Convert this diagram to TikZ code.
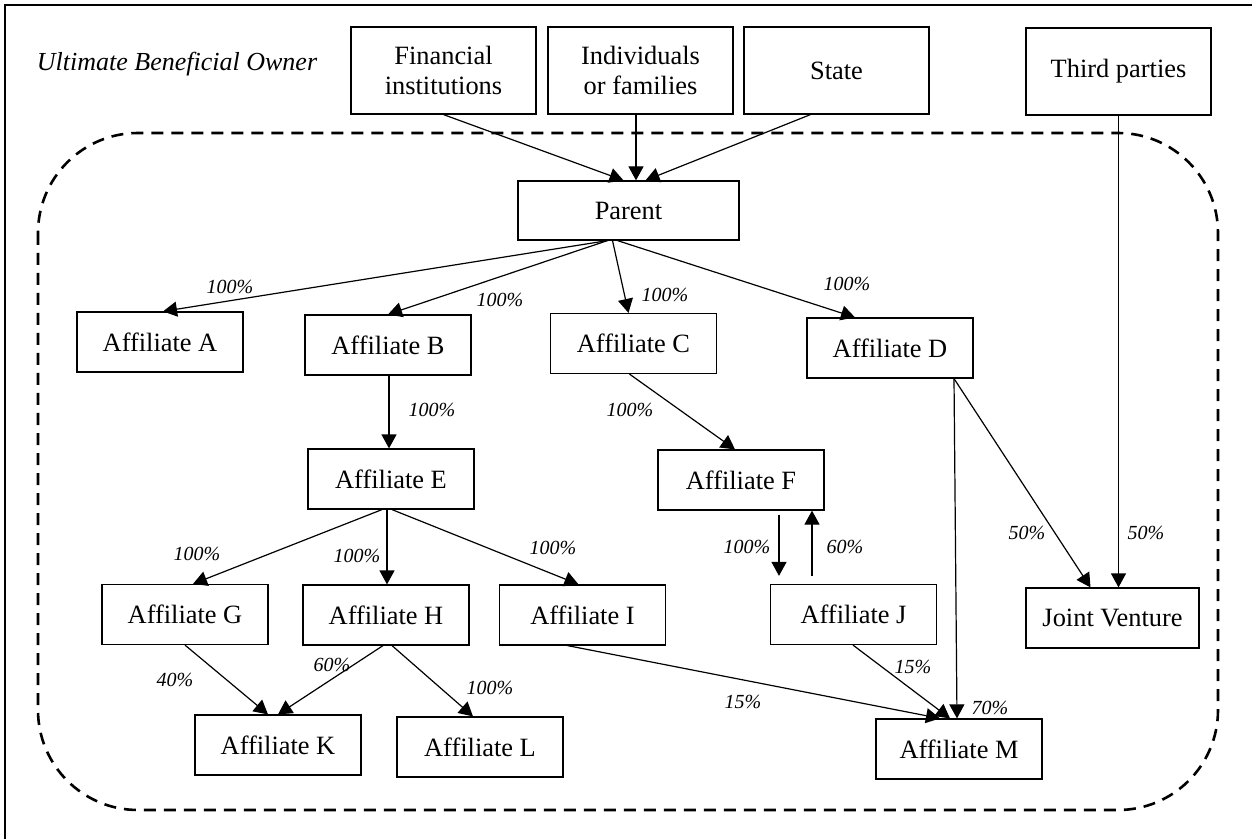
\documentclass[tikz,border=0pt]{standalone}
\usepackage{fontspec}
\setmainfont{Liberation Serif}
\usetikzlibrary{arrows.meta,positioning,calc}

\begin{document}
\begin{tikzpicture}[x=0.5pt, y=-0.5pt,
    every node/.style={font=\fontsize{13.2}{15}\selectfont},
    box/.style={draw, line width=0.6pt, minimum width=83pt, minimum height=30pt, inner sep=0pt, align=center},
    owner/.style={box, minimum width=92.5pt, minimum height=43.5pt},
    pct/.style={font=\fontsize{10}{12}\selectfont\itshape},
    arr/.style={line width=0.6pt, -{Triangle[length=7pt,width=7.5pt]}}]
  \useasboundingbox (0,0) rectangle (1252,839);
  \draw[line width=1pt] (5,839) -- (5,5) -- (1252,5);
  % group boundary
  \draw[dashed, line width=1.3pt, dash pattern=on 6pt off 4pt, rounded corners=50pt] (38,133) rectangle (1218,810);

  % owners
  \node[font=\fontsize{13}{15}\selectfont\itshape] (ubo) at (177,64) {Ultimate Beneficial Owner};
  \node[owner] (fin)   at (443.5,70.5)  {Financial\\institutions};
  \node[owner] (ind)   at (640.5,70.5)  {Individuals\\or families};
  \node[owner] (state) at (836.5,70.5)  {State};
  \node[owner] (third) at (1118.5,71.5) {Third parties};

  % companies
  \node[box, minimum width=110.5pt, minimum height=29.5pt] (parent) at (628.5,210.5) {Parent};
  \foreach \n/\x/\y/\l in {affA/160/342/A, affB/388/345/B, affC/633.5/343.5/C, affD/890/348/D,
      affE/391/479/E, affF/741/480/F, affG/185/614.5/G, affH/386/615/H, affI/582.5/615/I,
      affJ/853.5/614.5/J, affK/278/745/K, affL/480/747/L, affM/959/749/M}{
    \node[box] (\n) at (\x,\y) {Affiliate \l};
  }
  \node[box, minimum width=86.5pt] (jv) at (1112.5,618) {Joint Venture};

  % ownership links
  \draw[arr] (fin.south) -- ($(parent.north)+(-5,0)$);
  \draw[arr] ($(ind.south)+(-4.5,0)$) -- ($(parent.north)+(7.5,0)$);
  \draw[arr] ($(state.south)+(-26,0)$) -- ($(parent.north)+(17,0)$);
  \foreach \a/\sa/\b/\sb in {parent/-21/affA/3, parent/-21/affB/0, parent/-16/affC/-5, parent/-11/affD/-35,
      affB/1/affE/-2, affC/-4/affF/-6, affD/64/jv/-22, affD/64/affM/-2, third/0/jv/6,
      affE/-9/affG/8, affE/-4/affH/1, affE/1/affI/-4, affG/0/affK/-10, affH/-3/affK/0,
      affH/6/affL/-7, affI/-15/affM/-19, affJ/-0.5/affM/-9}{
    \draw[arr] ($(\a.south)+(\sa,0)$) -- ($(\b.north)+(\sb,0)$);
  }
  \draw[arr, shorten <=2pt, shorten >=4pt] ($(affF.south)+(38,0)$) -- ($(affJ.north)+(-74.5,0)$);
  \draw[arr, shorten <=4pt] ($(affJ.north)+(-41.5,0)$) -- ($(affF.south)+(71,0)$);

  % shares
  \foreach \n/\x/\y/\t in {pA/230/287/100, pB/500/300/100, pC/665/295/100, pD/847/284/100,
      pE/432/410/100, pF/630/410/100, pJVd/1027/533/50, pJVt/1146/533/50,
      pG/197/554/100, pH/357/556/100, pI/553/548/100, pJ/747/547/100, pFJ/845/547/60,
      pKg/175/680/40, pKh/332/665/60, pL/490/688/100, pMi/743/702/15, pMj/913/667/15, pMd/990/708/70}{
    \node[pct] (\n) at (\x,\y) {\t\%};
  }
\end{tikzpicture}
\end{document}
